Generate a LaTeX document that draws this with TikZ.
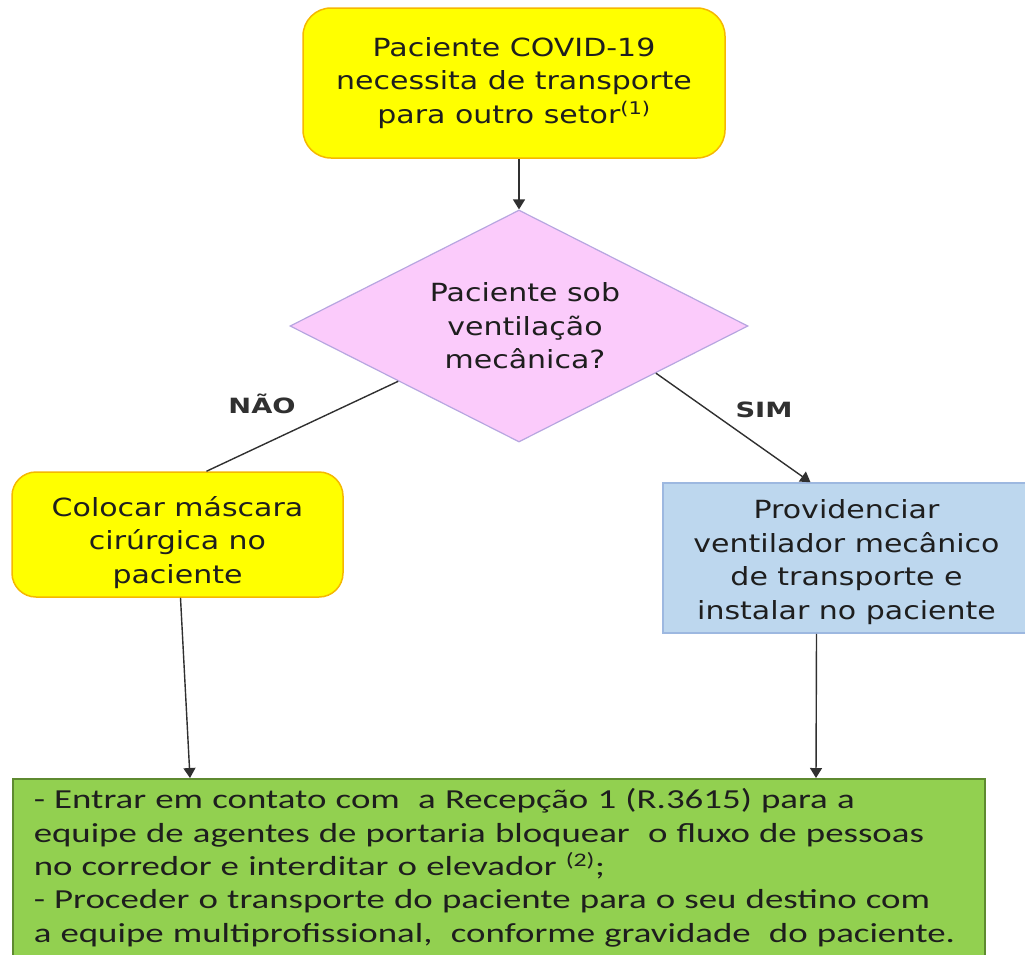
\documentclass[tikz,border=0pt]{standalone}
\usepackage{fontspec}
\usetikzlibrary{shapes.geometric,arrows.meta,calc}
\newfontfamily\vfont[FakeStretch=1.2]{DejaVu Sans}
\newfontfamily\vbold[FakeStretch=1.3]{DejaVu Sans Bold}
\newfontfamily\calib[FakeStretch=1.34]{Carlito}
\definecolor{yfill}{HTML}{FFFF00}
\definecolor{ydraw}{HTML}{F5B800}
\definecolor{pfill}{HTML}{FBCBFB}
\definecolor{pdraw}{HTML}{B7A6E0}
\definecolor{bfill}{HTML}{BDD7EE}
\definecolor{bdraw}{HTML}{9DB8E0}
\definecolor{gfill}{HTML}{92D050}
\definecolor{gdraw}{HTML}{5E8A30}
\definecolor{txt}{HTML}{1E1E1E}
\definecolor{lnk}{HTML}{303030}
\tikzset{
  boxtext/.style={font=\vfont\fontsize{25}{33.5}\selectfont, text=txt, align=center},
  ybox/.style={boxtext, draw=ydraw, fill=yfill, line width=1.5pt, rounded corners=28pt},
  bbox/.style={boxtext, draw=bdraw, fill=bfill, line width=1.5pt},
  decision/.style={boxtext, diamond, aspect=2, draw=pdraw, fill=pfill, line width=1.2pt, inner sep=0pt},
  lbl/.style={font=\vbold\fontsize{21}{24}\selectfont, text=lnk},
  link/.style={draw=lnk, line width=1.4pt},
  arr/.style={link, -{Triangle[length=10pt,width=12pt]}},
}
\begin{document}
\begin{tikzpicture}[x=1pt,y=-1pt]
\useasboundingbox (0,0) rectangle (1025,954);
\node[ybox, minimum width=422pt, minimum height=150pt] (top) at (514,83)
  {Paciente COVID-19\\necessita de transporte\\para outro setor\textsuperscript{(1)}};
\node[decision, minimum width=458pt, minimum height=232pt] (dia) at (519,326)
  {\hspace*{12pt}Paciente sob\\\hspace*{12pt}ventilação\\\hspace*{12pt}mecânica?};
\node[ybox, rounded corners=24pt, minimum width=331pt, minimum height=125pt] (left) at (177.5,534.5)
  {\rule{0pt}{36pt}Colocar máscara\\cirúrgica no\\paciente};
\node[bbox, minimum width=367pt, minimum height=150pt] (right) at (846.5,558)
  {\rule{0pt}{27pt}Providenciar\\ventilador mecânico\\de transporte e\\instalar no paciente};
\node[draw=gdraw, fill=gfill, line width=1.5pt, anchor=north west, text=txt,
  font=\calib\fontsize{27.5}{33.3}\selectfont, align=left, text width=930pt,
  inner xsep=21pt, inner ysep=10pt] (bottom) at (12,778)
  {- Entrar em contato com \ a Recepção 1 (R.3615) para a\\
   equipe de agentes de portaria bloquear \ o fluxo de pessoas\\
   no corredor e interditar o elevador \textsuperscript{(2)};\\
   - Proceder o transporte do paciente para o seu destino com\\
   a equipe multiprofissional, \ conforme gravidade \ do paciente.\\[6pt]};
\node[lbl] (nao) at (262,404) {NÃO};
\node[lbl] (sim) at (764,410) {SIM};
\draw[arr] (top.south -| dia.north) -- (dia.north);
\draw[link] ($(dia.west)!0.474!(dia.south)$) -- ($(left.north)+(29,0)$);
\draw[arr] ($(dia.east)!0.404!(dia.south)$) -- ($(right.north)+(-36,0)$);
\draw[arr] ($(left.south)+(3,0)$) -- ($(bottom.north west)+(178,0)$);
\draw[arr] ($(right.south)+(-30,0)$) -- ($(bottom.north west)+(804,0)$);
\end{tikzpicture}
\end{document}
